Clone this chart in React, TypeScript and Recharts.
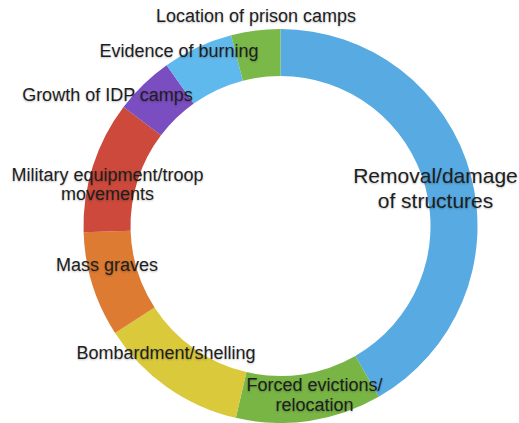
import React from "react";
import { PieChart, Pie, Cell } from "recharts";

const categories = [
  "Removal/damage of structures",
  "Forced evictions/relocation",
  "Bombardment/shelling",
  "Mass graves",
  "Military equipment/troop movements",
  "Growth of IDP camps",
  "Evidence of burning",
  "Location of prison camps",
];
const values = [150, 43, 44, 31, 39, 17.5, 20.8, 14.5];
const labelLines: string[][] = [
  ["Removal/damage", "of structures"],
  ["Forced evictions/", "relocation"],
  ["Bombardment/shelling"],
  ["Mass graves"],
  ["Military equipment/troop", "movements"],
  ["Growth of IDP camps"],
  ["Evidence of burning"],
  ["Location of prison camps"],
];
const colors = ["#57aae2", "#78b545", "#d9c93b", "#dc7b31", "#cc493b", "#7a4dc0", "#60b9ec", "#7ab84a"];

const data = categories.map((name, i) => ({ name, value: values[i] }));

// label placement offsets relative to pie centre (layout only)
const labelPos = [
  { dx: 155, dy: -51, gap: 25, size: 21 },
  { dx: 34, dy: 159, gap: 20, size: 18 },
  { dx: -114.5, dy: 127, gap: 20, size: 18 },
  { dx: -173.5, dy: 39, gap: 20, size: 18 },
  { dx: -173, dy: -51, gap: 19, size: 18 },
  { dx: -173, dy: -131, gap: 20, size: 18 },
  { dx: -101.5, dy: -175, gap: 20, size: 18 },
  { dx: -24.5, dy: -210, gap: 20, size: 18 },
];

const renderLabel = (props: any) => {
  const { cx, cy, index } = props;
  const p = labelPos[index];
  const lines = labelLines[index];
  return (
    <text
      key={`lbl-${index}`}
      x={cx + p.dx}
      y={cy + p.dy}
      textAnchor="middle"
      dominantBaseline="central"
      fill="#1e1e1e"
      fontSize={p.size}
      fontFamily="'Liberation Sans', Arial, sans-serif"
      style={{ textShadow: "0px 1px 2px rgba(0,0,0,0.25)" }}
    >
      {lines.map((l, j) => (
        <tspan key={j} x={cx + p.dx} dy={j === 0 ? 0 : p.gap}>
          {l}
        </tspan>
      ))}
    </text>
  );
};

export default function App() {
  return (
    <div style={{ position: "absolute", left: 0, top: 0, width: 519, height: 423, background: "#fff" }}>
      <PieChart width={519} height={423} margin={{ top: 0, right: 0, bottom: 0, left: 0 }}>
        <Pie
          data={data}
          dataKey="value"
          nameKey="name"
          cx={280.5}
          cy={226}
          innerRadius={150}
          outerRadius={197}
          startAngle={90}
          endAngle={-270}
          stroke="none"
          labelLine={false}
          label={renderLabel}
          isAnimationActive={false}
        >
          {data.map((d, i) => (
            <Cell key={d.name} fill={colors[i]} />
          ))}
        </Pie>
      </PieChart>
    </div>
  );
}
